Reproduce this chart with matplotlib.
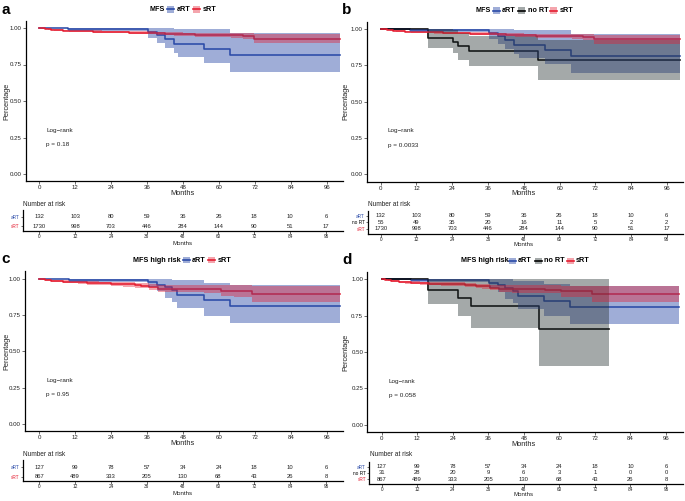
import matplotlib
matplotlib.use("Agg")
import matplotlib.pyplot as plt
from matplotlib.patches import Rectangle
from matplotlib.lines import Line2D

plt.rcParams['font.family'] = ['Liberation Sans', 'DejaVu Sans']

# ---------------- data ----------------
months_ticks = [0, 12, 24, 36, 48, 60, 72, 84, 96]

# All patients - aRT
all_art_t = [0, 9.7, 36.4, 39.2, 41.8, 44.8, 46.4, 55.0, 63.7, 100.3]
all_art_s = [1.0, 0.993, 0.973, 0.952, 0.925, 0.89, 0.89, 0.854, 0.815, 0.815]
all_art_lo = [1.0, 0.98, 0.93, 0.90, 0.86, 0.826, 0.80, 0.758, 0.70, 0.70]
all_art_hi = [1.0, 1.0, 1.0, 1.0, 1.0, 0.99, 0.99, 0.99, 0.965, 0.965]

# All patients - sRT
all_srt_t = [0, 1, 2, 3, 4, 5, 6, 8, 10, 12, 15, 18, 21, 24, 27, 30, 33, 36, 39, 42,
             45, 48, 52, 56, 60, 64, 68, 70.5, 71.5, 100.3]
all_srt_s = [1.0, 0.997, 0.994, 0.991, 0.989, 0.987, 0.985, 0.982, 0.980, 0.979, 0.978,
             0.976, 0.975, 0.973, 0.971, 0.969, 0.968, 0.967, 0.964, 0.961, 0.958, 0.956,
             0.955, 0.954, 0.952, 0.949, 0.946, 0.944, 0.928, 0.928]
all_srt_lo = [1.0, 0.995, 0.991, 0.987, 0.985, 0.982, 0.980, 0.977, 0.975, 0.973, 0.971,
              0.969, 0.968, 0.965, 0.963, 0.960, 0.959, 0.957, 0.953, 0.950, 0.946, 0.943,
              0.941, 0.939, 0.936, 0.931, 0.926, 0.923, 0.895, 0.895]
all_srt_hi = [1.0, 0.999, 0.997, 0.995, 0.993, 0.992, 0.990, 0.987, 0.985, 0.985, 0.984,
              0.983, 0.982, 0.981, 0.979, 0.978, 0.977, 0.977, 0.975, 0.972, 0.970, 0.969,
              0.969, 0.969, 0.968, 0.967, 0.966, 0.965, 0.962, 0.962]

# All patients - no RT
all_nort_t = [0, 15.8, 24.3, 26.0, 29.6, 52.6, 100.3]
all_nort_s = [1.0, 0.937, 0.91, 0.883, 0.85, 0.79, 0.79]
all_nort_lo = [1.0, 0.867, 0.832, 0.786, 0.747, 0.648, 0.648]
all_nort_hi = [1.0, 1.0, 0.99, 0.975, 0.955, 0.925, 0.925]

# High risk - aRT
hr_art_t = [0, 9.8, 36.4, 39.4, 41.8, 44.4, 46.1, 54.8, 63.7, 100.3]
hr_art_s = [1.0, 0.993, 0.977, 0.959, 0.94, 0.919, 0.885, 0.85, 0.809, 0.809]
hr_art_lo = [1.0, 0.98, 0.94, 0.912, 0.867, 0.84, 0.798, 0.745, 0.694, 0.694]
hr_art_hi = [1.0, 1.0, 1.0, 1.0, 1.0, 0.99, 0.99, 0.97, 0.955, 0.955]

# High risk - sRT
hr_srt_t = [0, 1, 2, 3, 4, 6, 8, 10, 13, 16, 20, 24, 28, 32, 34, 36.5, 39.5, 44, 50, 55,
            60.5, 65, 71, 100.3]
hr_srt_s = [1.0, 0.996, 0.992, 0.989, 0.986, 0.982, 0.979, 0.977, 0.974, 0.971, 0.968,
            0.966, 0.961, 0.955, 0.952, 0.943, 0.931, 0.930, 0.930, 0.929, 0.917, 0.917,
            0.898, 0.898]
hr_srt_lo = [1.0, 0.992, 0.987, 0.983, 0.979, 0.974, 0.970, 0.967, 0.963, 0.959, 0.955,
             0.952, 0.946, 0.938, 0.934, 0.923, 0.910, 0.908, 0.906, 0.905, 0.878, 0.876,
             0.843, 0.843]
hr_srt_hi = [1.0, 1.0, 0.997, 0.995, 0.993, 0.990, 0.988, 0.986, 0.984, 0.982, 0.980,
             0.979, 0.975, 0.971, 0.969, 0.964, 0.960, 0.960, 0.960, 0.960, 0.955, 0.955,
             0.952, 0.952]

# High risk - no RT
hr_nort_t = [0, 15.7, 25.9, 30.2, 53.1, 76.6]
hr_nort_s = [1.0, 0.924, 0.871, 0.816, 0.655, 0.655]
hr_nort_lo = [1.0, 0.832, 0.747, 0.667, 0.402, 0.402]
hr_nort_hi = [1.0, 1.0, 1.0, 1.0, 1.0, 1.0]

# Numbers at risk
risk_all_art = [132, 103, 80, 59, 36, 26, 18, 10, 6]
risk_all_nort = [55, 49, 35, 20, 16, 11, 5, 2, 2]
risk_all_srt = [1730, 998, 703, 446, 284, 144, 90, 51, 17]
risk_hr_art = [127, 99, 78, 57, 34, 24, 18, 10, 6]
risk_hr_nort = [31, 28, 20, 9, 6, 3, 1, 0, 0]
risk_hr_srt = [867, 489, 333, 205, 130, 68, 43, 26, 8]

pvals = ["p = 0.18", "p = 0.0033", "p = 0.95", "p = 0.058"]

# ---------------- style ----------------
BLUE = '#2B4BA8'
RED = '#E41E32'
BLACK = '#000000'
FILL = {'aRT': (BLUE, 0.45), 'no RT': ('#283232', 0.42), 'sRT': (RED, 0.40)}
LINE = {'aRT': BLUE, 'no RT': BLACK, 'sRT': RED}
TXT = '#222222'

W, H = 685, 501
fig = plt.figure(figsize=(W / 100, H / 100), dpi=100)


def fx(x):
    return x / W


def fy(y):
    return 1 - y / H


def add_axes_px(left, top, right, bottom):
    return fig.add_axes([fx(left), fy(bottom), (right - left) / W, (bottom - top) / H])


def style_axes(ax):
    for s in ['top', 'right']:
        ax.spines[s].set_visible(False)
    for s in ['left', 'bottom']:
        ax.spines[s].set_linewidth(0.9)
        ax.spines[s].set_color('black')
    ax.tick_params(length=2.2, width=0.5, color='#333333', labelcolor=TXT, pad=0.8)
    ax.set_facecolor('none')


def km_panel(left, right, x0, x96, top, bottom, y1, y0, groups, pval):
    ax = add_axes_px(left, top, right, bottom)
    ppm = (x96 - x0) / 96.0
    ax.set_xlim((left - x0) / ppm, (right - x0) / ppm)
    ppu = (y0 - y1)
    ax.set_ylim((y0 - bottom) / ppu, (y0 - top) / ppu)
    for name, t, s, lo, hi in groups:
        ax.step(t, s, where='post', color=LINE[name], lw=1.15, zorder=2)
    for name, t, s, lo, hi in groups:
        c, a = FILL[name]
        ax.fill_between(t, lo, hi, step='post', color=c, alpha=a, lw=0, zorder=3)
    style_axes(ax)
    ax.set_xticks(months_ticks)
    ax.set_xticklabels([str(m) for m in months_ticks], fontsize=4.4)
    ax.set_yticks([0, 0.25, 0.5, 0.75, 1.0])
    ax.set_yticklabels(['0.00', '0.25', '0.50', '0.75', '1.00'], fontsize=4.4)
    ax.text(2.3, 0.30, 'Log\u2212rank', fontsize=4.6, color=TXT, ha='left', va='center')
    ax.text(2.3, 0.20, pval, fontsize=4.6, color=TXT, ha='left', va='center')
    return ax


def risk_panel(left, right, x0, x96, rows_px, bottom, rows):
    top = rows_px[0] - (rows_px[-1] - rows_px[0]) / max(len(rows_px) - 1, 1) * 0.75
    ax = add_axes_px(left, top, right, bottom)
    ppm = (x96 - x0) / 96.0
    ax.set_xlim((left - x0) / ppm, (right - x0) / ppm)
    ax.set_ylim(bottom, top)
    for ypx, (name, vals) in zip(rows_px, rows):
        for m, v in zip(months_ticks, vals):
            ax.text(m, ypx, str(v), fontsize=4.2, color=TXT, ha='center', va='center')
    style_axes(ax)
    ax.tick_params(length=1.8, pad=0.6)
    ax.set_yticks(rows_px)
    ax.set_yticklabels([r[0] for r in rows], fontsize=3.4)
    for lab, (name, _) in zip(ax.get_yticklabels(), rows):
        lab.set_color(LINE[name])
    ax.set_xticks(months_ticks)
    ax.set_xticklabels([str(m) for m in months_ticks], fontsize=3.4)
    return ax


def legend(title, ytop, title_x, items):
    fig.text(fx(title_x), fy(ytop), title, fontsize=5.2, ha='left', va='center',
             color='black', fontweight='bold')
    for name, kx, tx in items:
        c, a = FILL[name]
        fig.patches.append(Rectangle((fx(kx), fy(ytop + 3.2)), 7 / W, 6.4 / H,
                                     transform=fig.transFigure, facecolor=c, alpha=a,
                                     lw=0))
        fig.lines.append(Line2D([fx(kx), fx(kx + 7)], [fy(ytop), fy(ytop)],
                                transform=fig.transFigure, color=LINE[name], lw=1.2))
        fig.text(fx(tx), fy(ytop), name, fontsize=5.2, ha='left', va='center',
                 color='black', fontweight='bold')


def labels(letter, lx, ly, ylab_x, ylab_y, months1, months2, nar_x, nar_y, x_mid, x_mid2):
    fig.text(fx(lx), fy(ly), letter, fontsize=11, fontweight='bold', ha='center', va='center')
    fig.text(fx(ylab_x), fy(ylab_y), 'Percentage', fontsize=5.3, rotation=90,
             ha='center', va='center', color=TXT)
    fig.text(fx(x_mid), fy(months1), 'Months', fontsize=5.3, ha='center', va='center', color=TXT)
    fig.text(fx(nar_x), fy(nar_y), 'Number at risk', fontsize=4.7, ha='left', va='center', color=TXT)
    fig.text(fx(x_mid2), fy(months2), 'Months', fontsize=4.4, ha='center', va='center', color=TXT)


# ---------------- panel a ----------------
km_panel(25.7, 343, 39.3, 327, 21.0, 181.0, 28.0, 174.0,
         [('aRT', all_art_t, all_art_s, all_art_lo, all_art_hi),
          ('sRT', all_srt_t, all_srt_s, all_srt_lo, all_srt_hi)], pvals[0])
risk_panel(22.7, 343, 39.3, 326, [216.7, 226.3], 231.0,
           [('aRT', risk_all_art), ('sRT', risk_all_srt)])
legend('MFS', 9.3, 150, [('aRT', 167, 177), ('sRT', 193, 203)])
labels('a', 6, 9.5, 6.5, 101, 193.3, 243.3, 22.7, 204, 183, 183)

# ---------------- panel b ----------------
km_panel(366.7, 683, 380.7, 667, 21.5, 181.5, 29.0, 174.3,
         [('aRT', all_art_t, all_art_s, all_art_lo, all_art_hi),
          ('no RT', all_nort_t, all_nort_s, all_nort_lo, all_nort_hi),
          ('sRT', all_srt_t, all_srt_s, all_srt_lo, all_srt_hi)], pvals[1])
risk_panel(368.3, 683, 380.7, 666.7, [215.7, 222.3, 229.0], 234.0,
           [('aRT', risk_all_art), ('no RT', risk_all_nort), ('sRT', risk_all_srt)])
legend('MFS', 10.7, 475, [('aRT', 493, 502), ('no RT', 518, 528), ('sRT', 550, 560)])
labels('b', 346.7, 9.5, 345.5, 101, 193.3, 244.3, 368.3, 205, 524, 524)

# ---------------- panel c ----------------
km_panel(25.0, 343, 39.3, 327, 271.0, 430.7, 278.7, 424.0,
         [('aRT', hr_art_t, hr_art_s, hr_art_lo, hr_art_hi),
          ('sRT', hr_srt_t, hr_srt_s, hr_srt_lo, hr_srt_hi)], pvals[2])
risk_panel(22.7, 343, 39.3, 326, [467.3, 477.0], 481.0,
           [('aRT', risk_hr_art), ('sRT', risk_hr_srt)])
legend('MFS high risk', 260, 133, [('aRT', 183, 192), ('sRT', 208, 218)])
labels('c', 6, 259, 6.5, 351, 443.3, 493.3, 22.7, 454.3, 183, 183)

# ---------------- panel d ----------------
km_panel(367.3, 683, 381.7, 666, 272.0, 432.0, 279.3, 424.7,
         [('aRT', hr_art_t, hr_art_s, hr_art_lo, hr_art_hi),
          ('no RT', hr_nort_t, hr_nort_s, hr_nort_lo, hr_nort_hi),
          ('sRT', hr_srt_t, hr_srt_s, hr_srt_lo, hr_srt_hi)], pvals[3])
risk_panel(369.3, 683, 381.7, 666, [466.7, 472.8, 479.0], 484.0,
           [('aRT', risk_hr_art), ('no RT', risk_hr_nort), ('sRT', risk_hr_srt)])
legend('MFS high risk', 260.7, 461, [('aRT', 509, 518), ('no RT', 535, 544), ('sRT', 567, 576)])
labels('d', 346.7, 259.5, 345.5, 352, 444.3, 494.3, 370, 454.3, 524, 524)

fig.savefig('out.png', dpi=100)
